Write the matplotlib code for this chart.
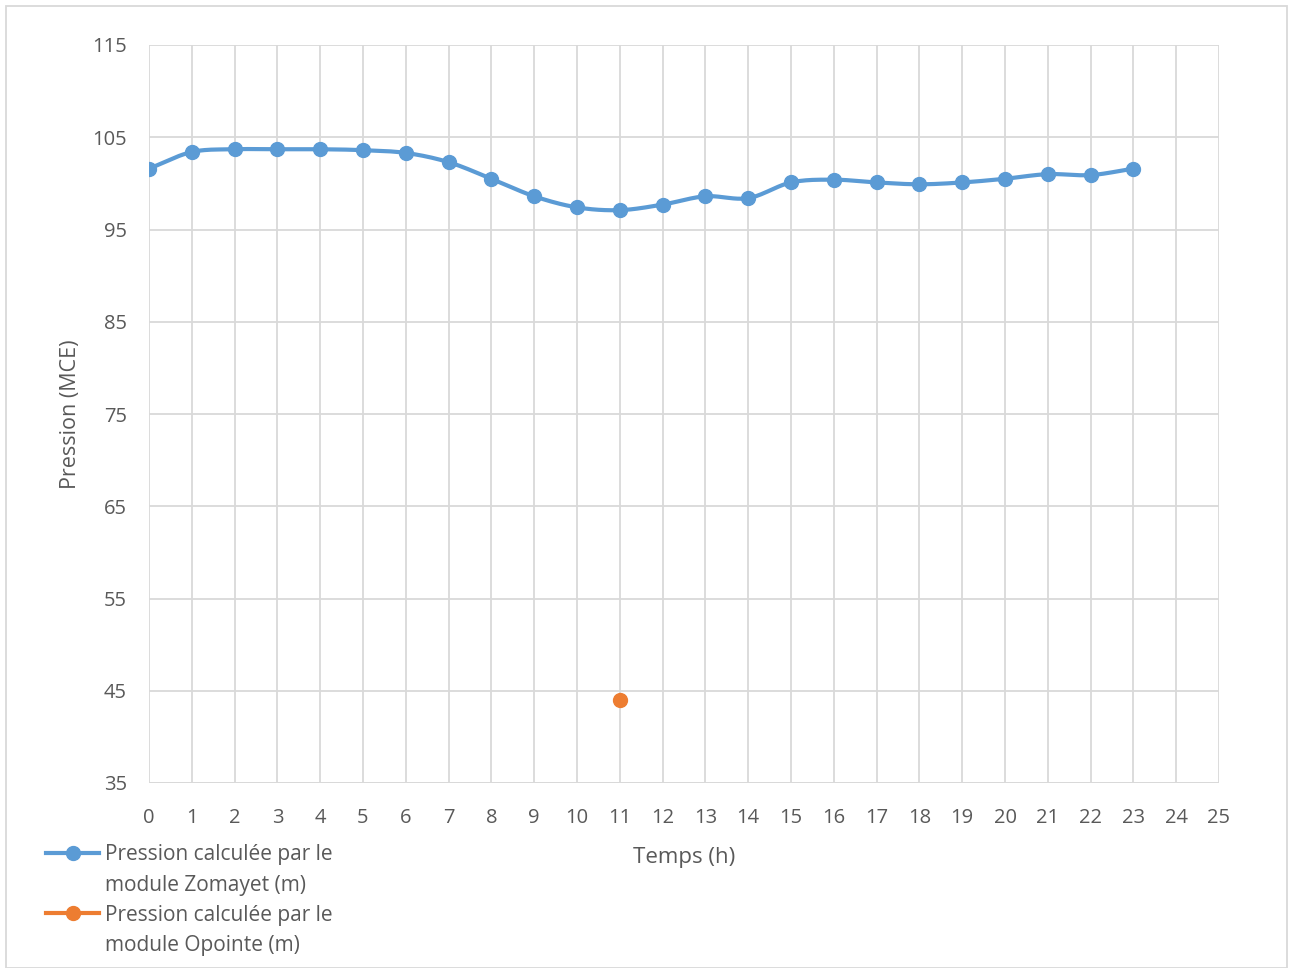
import numpy as np
import matplotlib.pyplot as plt
from matplotlib.lines import Line2D
from matplotlib.patches import Rectangle

plt.rcParams['font.family'] = ['Open Sans', 'DejaVu Sans']

hours = list(range(24))
zomayet = [101.6, 103.4, 103.7, 103.7, 103.7, 103.6, 103.3, 102.3, 100.5, 98.6,
           97.4, 97.1, 97.7, 98.6, 98.4, 100.1, 100.4, 100.1, 99.9, 100.1,
           100.5, 101.0, 100.9, 101.6]
opointe_hours = [11]
opointe = [44.0]

blue = "#5b9bd5"
orange = "#ed7d31"
grid_col = "#d9d9d9"
text_col = "#595959"


def smooth(x, y, n=20):
    # Catmull-Rom curve through the points, like Excel's smoothed line
    x = np.asarray(x, float)
    y = np.asarray(y, float)
    px = np.concatenate([[2 * x[0] - x[1]], x, [2 * x[-1] - x[-2]]])
    py = np.concatenate([[2 * y[0] - y[1]], y, [2 * y[-1] - y[-2]]])
    xs, ys = [], []
    t = np.linspace(0, 1, n, endpoint=False)
    for i in range(1, len(px) - 2):
        for p, out in ((px, xs), (py, ys)):
            p0, p1, p2, p3 = p[i - 1], p[i], p[i + 1], p[i + 2]
            out.extend(0.5 * (2 * p1 + (-p0 + p2) * t
                              + (2 * p0 - 5 * p1 + 4 * p2 - p3) * t ** 2
                              + (-p0 + 3 * p1 - 3 * p2 + p3) * t ** 3))
    xs.append(x[-1])
    ys.append(y[-1])
    return xs, ys


fig = plt.figure(figsize=(12.93, 9.68), dpi=100)
ax = fig.add_axes([149 / 1293, 1 - 783 / 968, (1219 - 149) / 1293, (783 - 45) / 968])

sx, sy = smooth(hours, zomayet)
ax.plot(sx, sy, color=blue, lw=3, solid_capstyle="round", zorder=3)
ax.plot(hours, zomayet, "o", color=blue, ms=10, zorder=4)
ax.plot(opointe_hours, opointe, "o", color=orange, ms=10, zorder=4)

ax.set_xlim(0, 25)
ax.set_ylim(35, 115)
ax.set_xticks(range(26))
ax.set_yticks(range(35, 116, 10))
ax.grid(True, color=grid_col, lw=1.3)
ax.set_axisbelow(True)
for s in ax.spines.values():
    s.set_visible(False)
ax.axhline(35, color=grid_col, lw=1.3, zorder=1)
ax.tick_params(axis="x", length=0, labelsize=14.5, colors=text_col, pad=18)
ax.tick_params(axis="y", length=0, labelsize=14.5, colors=text_col, pad=16)
ax.set_xlabel("Temps (h)", fontsize=16, color=text_col, labelpad=14)
ax.set_ylabel("Pression (MCE)", fontsize=15.5, color=text_col, labelpad=8)

# legend: handle next to the first line of each label, as in Excel
blank = Line2D([], [], color="none")
handles = [Line2D([], [], color=blue, lw=3, marker="o", ms=10), blank,
           Line2D([], [], color=orange, lw=3, marker="o", ms=10), blank]
labels = ["Pression calculée par le", "module Zomayet (m)",
          "Pression calculée par le", "module Opointe (m)"]
leg = fig.legend(handles, labels, loc="upper left", bbox_to_anchor=(38 / 1293, 1 - 836 / 968),
                 frameon=False, fontsize=15, handlelength=2.55, handletextpad=0.25,
                 labelspacing=0.44, borderaxespad=0)
for t in leg.get_texts():
    t.set_color(text_col)

fig.patches.append(Rectangle((6 / 1293, 0), 1281 / 1293, 1 - 6 / 968, transform=fig.transFigure,
                             fill=False, edgecolor="#d9d9d9", lw=1.3))

fig.savefig("out.png", dpi=100)
